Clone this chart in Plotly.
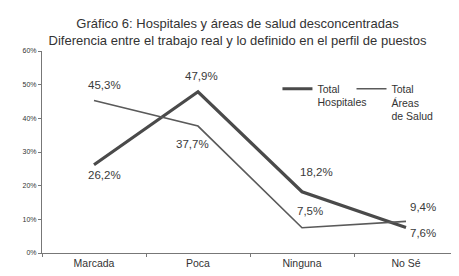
import plotly.graph_objects as go

categories = ["Marcada", "Poca", "Ninguna", "No Sé"]
hospitales = [26.2, 47.9, 18.2, 7.6]
areas = [45.3, 37.7, 7.5, 9.4]
y_ticks = [0, 10, 20, 30, 40, 50, 60]
y_ticktext = [f"{v}%" for v in y_ticks]

def fmt(v):
    return f"{v:.1f}%".replace(".", ",")

fig = go.Figure()
fig.add_trace(go.Scatter(x=categories, y=hospitales, mode="lines",
                         name="Total<br>Hospitales", legend="legend",
                         line=dict(color="#4a4a4a", width=3.2)))
fig.add_trace(go.Scatter(x=categories, y=areas, mode="lines",
                         name="Total<br>Áreas<br>de Salud", legend="legend2",
                         line=dict(color="#5a5a5a", width=1.6)))

# label offsets (px) per point
h_off = [(10, -10), (3, 16), (14, 20), (17, -6)]
a_off = [(10, 15), (-6, -18), (8, 17), (17, 14)]
for cat, v, (dx, dy) in zip(categories, hospitales, h_off):
    fig.add_annotation(x=cat, y=v, text=fmt(v), showarrow=False,
                       xshift=dx, yshift=dy, font=dict(size=11.5, color="#3a3a3a"))
for cat, v, (dx, dy) in zip(categories, areas, a_off):
    fig.add_annotation(x=cat, y=v, text=fmt(v), showarrow=False,
                       xshift=dx, yshift=dy, font=dict(size=11.5, color="#3a3a3a"))

legend_style = dict(orientation="v", xanchor="left", yanchor="top", valign="top",
                    font=dict(size=10.5, color="#333333"), bgcolor="rgba(0,0,0,0)")

fig.update_layout(
    width=459, height=276,
    margin=dict(l=34, r=9, t=43, b=31),
    paper_bgcolor="white", plot_bgcolor="white",
    font=dict(family="Liberation Sans, Arial, sans-serif", color="#333333"),
    title=dict(text="Gráfico 6: Hospitales y áreas de salud desconcentradas<br>Diferencia entre el trabajo real y lo definido en el perfil de puestos",
               x=0.5, xref="container", xanchor="center",
               y=1 - 20 / 276, yref="container", yanchor="top",
               font=dict(size=13, color="#333333")),
    showlegend=True,
    legend=dict(x=0.566, y=0.879, **legend_style),
    legend2=dict(x=0.744, y=0.879, **legend_style),
    xaxis=dict(type="category", range=[-0.5, 3.5], showline=True, linecolor="#777777",
               linewidth=1, ticks="outside", tickson="boundaries", ticklen=3,
               tickcolor="#777777", showgrid=False, zeroline=False,
               tickfont=dict(size=10.5, color="#333333")),
    yaxis=dict(range=[0, 60], tickvals=y_ticks, ticktext=y_ticktext, showline=True,
               linecolor="#777777", linewidth=1, ticks="outside", ticklen=3,
               tickcolor="#777777", showgrid=False, zeroline=False,
               tickfont=dict(size=7, color="#333333")),
)

fig.write_html("out.html")
